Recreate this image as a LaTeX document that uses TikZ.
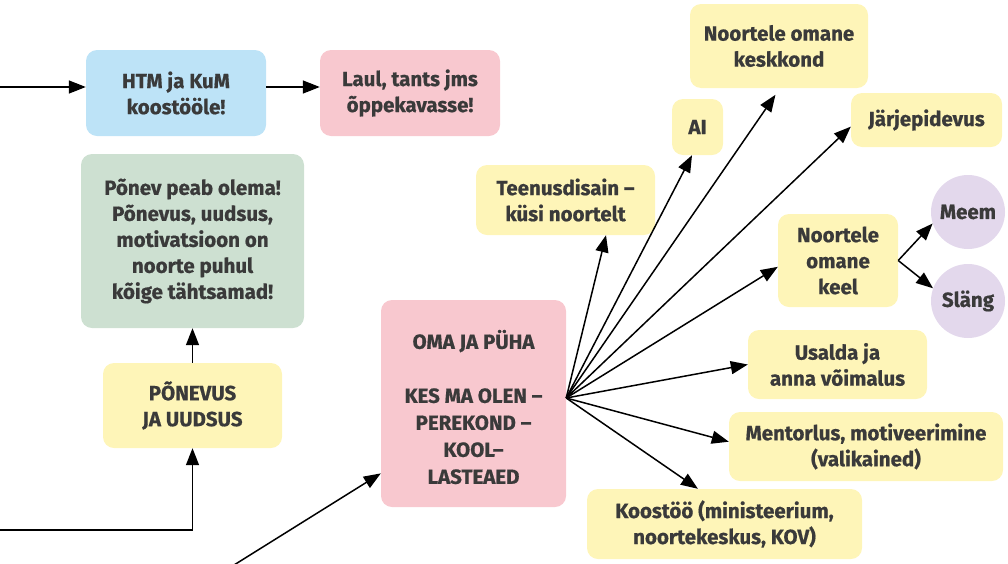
\documentclass[tikz,border=0pt]{standalone}
\usepackage{fontspec}
\setmainfont{Fira Sans}[BoldFeatures={FakeBold=0.7}]
\usetikzlibrary{arrows.meta,calc}
\definecolor{cblue}{HTML}{BDE3F7}
\definecolor{cpink}{HTML}{F8C8CF}
\definecolor{cgreen}{HTML}{CDE0D1}
\definecolor{cyellow}{HTML}{FEF5B8}
\definecolor{cpurple}{HTML}{E3D8EC}
\definecolor{ctext}{HTML}{3A3A3A}
\begin{document}
\begin{tikzpicture}[x=1pt,y=-1pt,
  box/.style={rounded corners=11pt, text=ctext, font=\fontsize{20.5}{26}\selectfont\bfseries, align=center, inner sep=0pt},
  circ/.style={circle, text=ctext, font=\fontsize{20.5}{26}\selectfont\bfseries, align=center, inner sep=0pt, fill=cpurple, minimum size=74pt},
  arr/.style={-{Triangle[length=17pt,width=13pt]}, line width=1.5pt}]
\useasboundingbox (0,0) rectangle (1008,563);

\node[box, fill=cblue, minimum width=180pt, minimum height=86pt] (htm) at (176,93) {HTM ja KuM\\koostööle!};
\node[box, fill=cpink, minimum width=180pt, minimum height=86pt] (laul) at (410,93) {Laul, tants jms\\õppekavasse!};
\node[box, fill=cgreen, minimum width=223pt, minimum height=174pt] (green) at (192.5,241) {Põnev peab olema!\\Põnevus, uudsus,\\motivatsioon on\\noorte puhul\\kõige tähtsamad!};
\node[box, fill=cyellow, minimum width=179pt, minimum height=85pt] (pon) at (192.5,405.5) {PÕNEVUS\\JA UUDSUS};
\node[box, fill=cpink, minimum width=185pt, minimum height=207pt, font=\fontsize{20.5}{27}\selectfont\bfseries] (oma) at (473.5,403.5) {\rule{0pt}{26pt}OMA JA PÜHA\\[27pt]KES MA OLEN –\\PEREKOND –\\KOOL–\\LASTEAED};

\node[box, fill=cyellow, minimum width=179pt, minimum height=70pt] (teen) at (565.5,200) {Teenusdisain –\\küsi noortelt};
\node[box, fill=cyellow, minimum width=51pt, minimum height=56pt] (ai) at (697.5,127) {AI};
\node[box, fill=cyellow, minimum width=178pt, minimum height=84pt] (kesk) at (779,46) {Noortele omane\\keskkond};
\node[box, fill=cyellow, minimum width=151pt, minimum height=54pt] (jarj) at (926.5,120) {Järjepidevus};
\node[box, fill=cyellow, minimum width=120pt, minimum height=93pt] (keel) at (838,260.5) {Noortele\\omane\\keel};
\node[circ] (meem) at (968,212) {Meem};
\node[circ] (slang) at (968,301) {Släng};
\node[box, fill=cyellow, minimum width=179pt, minimum height=69pt] (usalda) at (837.5,364.5) {Usalda ja\\anna võimalus};
\node[box, fill=cyellow, minimum width=274pt, minimum height=69pt] (mentor) at (866,446.5) {Mentorlus, motiveerimine\\(valikained)};
\node[box, fill=cyellow, minimum width=275pt, minimum height=70pt] (koos) at (724.5,524) {Koostöö (ministeerium,\\noortekeskus, KOV)};

\coordinate (inTop) at (-5,87);
\coordinate (inBot) at (-5,530);
\coordinate (inDiag) at (226,570);
\coordinate (fan) at ($(oma.east)+(0,-5.5)$);

\draw[arr] (inTop) -- (inTop -| htm.west);
\draw[arr] (htm.east |- inTop) -- (laul.west |- inTop);
\draw[arr] (pon.north) -- (green.south);
\draw[arr] (inBot) -| (pon.south);
\draw[arr] (inDiag) -- (oma.217);

\draw[arr] (fan) -- (teen.-41.7);
\draw[arr] (fan) -- (ai.-101);
\draw[arr, shorten >=8pt] (fan) -- ($(kesk.south)+(1,0)$);
\draw[arr] (fan) -- (jarj.185.3);
\draw[arr] (fan) -- (keel.186.2);
\draw[arr] (fan) -- (usalda.west);
\draw[arr] (fan) -- (mentor.178.5);
\draw[arr] (fan) -- (koos.127.4);
\draw[arr] (keel.east) -- (meem.198);
\draw[arr] (keel.east) -- (slang.160);
\end{tikzpicture}
\end{document}
